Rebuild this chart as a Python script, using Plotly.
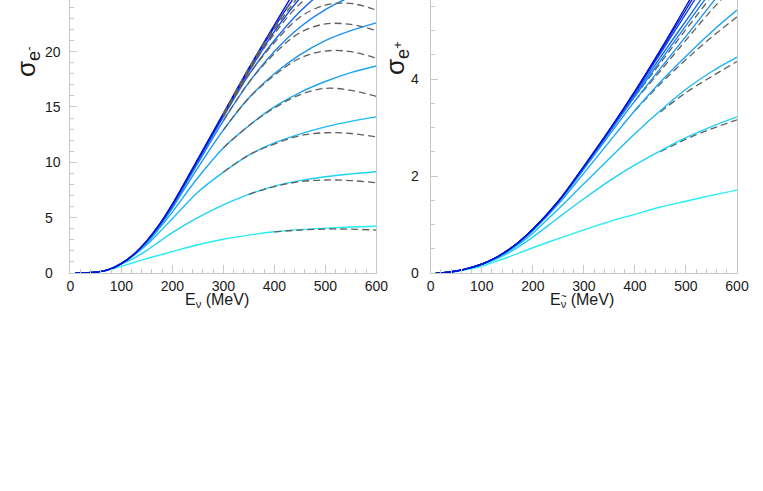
import plotly.graph_objects as go

# energy grid (MeV) shared by all curves
e_grid = [10, 25, 50, 75, 100, 125, 150, 175, 200, 250, 300, 350, 400, 450, 500, 550, 600]
e_tail_left = [300, 350, 400, 450, 500, 550, 600]
e_tail_right = [400, 450, 500, 550, 600]

# sigma_e- (left panel), solid curves from light to dark
sig_em_1 = [0, 0.01, 0.07, 0.27, 0.60, 0.95, 1.30, 1.62, 1.93, 2.55, 3.05, 3.42, 3.72, 3.92, 4.05, 4.15, 4.22]
sig_em_2 = [0, 0.01, 0.07, 0.29, 0.80, 1.35, 2.05, 2.85, 3.65, 5.00, 6.15, 7.10, 7.85, 8.35, 8.70, 8.95, 9.15]
sig_em_3 = [0, 0.01, 0.07, 0.30, 0.84, 1.60, 2.55, 3.70, 4.90, 7.30, 9.10, 10.65, 11.75, 12.55, 13.2, 13.7, 14.1]
sig_em_4 = [0, 0.01, 0.07, 0.30, 0.85, 1.65, 2.70, 4.05, 5.50, 8.60, 11.3, 13.3, 15.0, 16.3, 17.3, 18.1, 18.7]
sig_em_5 = [0, 0.01, 0.07, 0.30, 0.85, 1.68, 2.80, 4.20, 5.85, 9.50, 12.9, 15.8, 18.0, 19.7, 21.0, 21.9, 22.6]
sig_em_6 = [0, 0.01, 0.07, 0.30, 0.85, 1.69, 2.85, 4.30, 6.00, 9.90, 13.75, 17.2, 20.0, 22.2, 23.8, 24.95, 25.8]
sig_em_7 = [0, 0.01, 0.07, 0.30, 0.85, 1.70, 2.88, 4.35, 6.10, 10.05, 14.1, 17.9, 21.0, 23.6, 25.6, 27.2, 28.5]
sig_em_8 = [0, 0.01, 0.07, 0.30, 0.85, 1.70, 2.90, 4.38, 6.15, 10.2, 14.25, 18.2, 21.8, 24.8, 27.2, 29.2, 30.8]
sig_em_9 = [0, 0.01, 0.07, 0.30, 0.85, 1.70, 2.90, 4.40, 6.20, 10.25, 14.35, 18.4, 22.2, 25.6, 28.5, 31.0, 33.0]
sig_em_10 = [0, 0.01, 0.07, 0.30, 0.85, 1.70, 2.90, 4.40, 6.20, 10.3, 14.4, 18.5, 22.4, 26.2, 29.8, 33.0, 36.0]

# dashed approximations (left), only where they show apart from the solid lines
dash_em_1 = [None, None, 3.72, 3.88, 3.97, 3.96, 3.88]
dash_em_2 = [None, 7.10, 7.80, 8.25, 8.40, 8.35, 8.15]
dash_em_3 = [9.10, 10.65, 11.65, 12.4, 12.67, 12.6, 12.3]
dash_em_4 = [11.3, 13.3, 14.9, 16.1, 16.68, 16.5, 15.95]
dash_em_5 = [12.9, 15.8, 17.85, 19.4, 20.05, 20.0, 19.4]
dash_em_6 = [13.75, 17.2, 19.8, 21.7, 22.5, 22.45, 21.9]
dash_em_7 = [14.1, 17.9, 20.8, 23.1, 24.2, 24.35, 23.75]
dash_em_8 = [14.25, 18.2, 21.6, 24.3, 26.0, 26.5, 26.3]
dash_em_9 = [14.35, 18.4, 22.0, 25.1, 27.5, 28.8, 29.2]
dash_em_10 = [14.4, 18.5, 22.2, 25.6, 28.6, 30.8, 32.0]

# sigma_e+ (right panel)
sig_ep_1 = [0, 0.005, 0.03, 0.08, 0.14, 0.23, 0.32, 0.42, 0.52, 0.71, 0.89, 1.06, 1.21, 1.36, 1.48, 1.60, 1.71]
sig_ep_2 = [0, 0.005, 0.04, 0.095, 0.17, 0.27, 0.40, 0.56, 0.74, 1.14, 1.53, 1.90, 2.23, 2.52, 2.79, 3.02, 3.22]
sig_ep_3 = [0, 0.005, 0.04, 0.10, 0.18, 0.29, 0.43, 0.61, 0.82, 1.32, 1.84, 2.36, 2.87, 3.35, 3.79, 4.15, 4.45]
sig_ep_4 = [0, 0.005, 0.04, 0.10, 0.18, 0.30, 0.45, 0.64, 0.87, 1.42, 2.06, 2.71, 3.35, 3.94, 4.47, 4.97, 5.42]
sig_ep_5 = [0, 0.005, 0.04, 0.10, 0.18, 0.30, 0.45, 0.65, 0.89, 1.46, 2.14, 2.85, 3.55, 4.22, 4.88, 5.55, 6.20]
sig_ep_6 = [0, 0.005, 0.04, 0.10, 0.18, 0.30, 0.46, 0.65, 0.90, 1.47, 2.17, 2.90, 3.64, 4.38, 5.10, 5.82, 6.50]
sig_ep_7 = [0, 0.005, 0.04, 0.10, 0.18, 0.30, 0.46, 0.66, 0.90, 1.47, 2.18, 2.92, 3.68, 4.45, 5.20, 5.95, 6.70]
sig_ep_8 = [0, 0.005, 0.04, 0.10, 0.18, 0.30, 0.46, 0.66, 0.90, 1.48, 2.19, 2.94, 3.72, 4.53, 5.35, 6.18, 7.00]
sig_ep_9 = [0, 0.005, 0.04, 0.10, 0.18, 0.30, 0.46, 0.66, 0.90, 1.48, 2.20, 2.95, 3.74, 4.57, 5.43, 6.30, 7.15]
sig_ep_10 = [0, 0.005, 0.04, 0.10, 0.18, 0.30, 0.46, 0.66, 0.90, 1.48, 2.20, 2.95, 3.75, 4.60, 5.50, 6.40, 7.30]

dash_ep_2 = [None, 2.50, 2.76, 2.97, 3.16]
dash_ep_3 = [None, 3.32, 3.72, 4.05, 4.36]
dash_ep_4 = [3.35, 3.90, 4.40, 4.86, 5.28]
dash_ep_5 = [3.55, 4.17, 4.80, 5.42, 5.98]
dash_ep_6 = [3.64, 4.33, 5.02, 5.70, 6.35]

# tick labels (single digits padded so they line up on the left like the original)
left_tick_vals = [0, 5, 10, 15, 20]
left_tick_text = ['0\u2007', '5\u2007', '10', '15', '20']
right_tick_vals = [0, 2, 4]
right_tick_text = ['0', '2', '4']

line_colors = ['#24eef4', '#1fd2f6', '#1dbbf5', '#1ca6f3', '#1b94f2',
               '#1a82f0', '#1868ec', '#1248e6', '#0a28de', '#0010d4']

left_solid = [sig_em_1, sig_em_2, sig_em_3, sig_em_4, sig_em_5,
              sig_em_6, sig_em_7, sig_em_8, sig_em_9, sig_em_10]
left_dash = [dash_em_1, dash_em_2, dash_em_3, dash_em_4, dash_em_5,
             dash_em_6, dash_em_7, dash_em_8, dash_em_9, dash_em_10]
right_solid = [sig_ep_1, sig_ep_2, sig_ep_3, sig_ep_4, sig_ep_5,
               sig_ep_6, sig_ep_7, sig_ep_8, sig_ep_9, sig_ep_10]
right_dash = [dash_ep_2, dash_ep_3, dash_ep_4, dash_ep_5, dash_ep_6]

W, H = 763, 491
FONT = "Liberation Sans, Arial, sans-serif"
TICK_GREY = '#c8c8c8'
DASH_GREY = '#606060'

fig = go.Figure()


def add_dashed(xa, ya, e_tail, dashes):
    for vals in dashes:
        fig.add_trace(go.Scatter(
            x=e_tail, y=vals, mode='lines', xaxis=xa, yaxis=ya,
            line=dict(color=DASH_GREY, width=1.3, dash='7px,4px', shape='spline'),
            showlegend=False, hoverinfo='skip'))


def add_solid(xa, ya, solids):
    for color, vals in zip(line_colors, solids):
        fig.add_trace(go.Scatter(
            x=e_grid, y=vals, mode='lines', xaxis=xa, yaxis=ya,
            line=dict(color=color, width=1.4, shape='spline'),
            showlegend=False, hoverinfo='skip'))


# left: dashes drawn over the solid lines, right: under them
add_solid('x', 'y', left_solid)
add_dashed('x', 'y', e_tail_left, left_dash)
add_dashed('x2', 'y2', e_tail_right, right_dash)
add_solid('x2', 'y2', right_solid)


def px_x(px):
    return px / W


def px_y(py):
    return 1 - py / H


y_dom = [px_y(273), 1.0]

axis_common = dict(
    ticks='inside', tickcolor=TICK_GREY, tickwidth=1,
    showline=True, linecolor=TICK_GREY, linewidth=1,
    showgrid=False, zeroline=False, automargin=False,
    tickfont=dict(family=FONT, size=14, color='#1a1a1a'),
)

fig.update_layout(
    width=W, height=H,
    margin=dict(l=0, r=0, t=0, b=0, autoexpand=False),
    paper_bgcolor='white', plot_bgcolor='white',
    xaxis=dict(domain=[px_x(70.3), px_x(376.3)], range=[0, 600], anchor='y',
               dtick=100, tick0=0, ticklen=8,
               minor=dict(dtick=20, ticks='inside', ticklen=4, tickcolor=TICK_GREY),
               **axis_common),
    yaxis=dict(domain=y_dom, range=[0, 273 / 11.07], anchor='x',
               tickmode='array', tickvals=left_tick_vals, ticktext=left_tick_text,
               ticklen=7, mirror=True, ticklabelstandoff=6,
               minor=dict(dtick=1, ticks='inside', ticklen=4, tickcolor=TICK_GREY),
               **axis_common),
    xaxis2=dict(domain=[px_x(430.7), px_x(737.0)], range=[0, 600], anchor='y2',
                dtick=100, tick0=0, ticklen=8,
                minor=dict(dtick=20, ticks='inside', ticklen=4, tickcolor=TICK_GREY),
                **axis_common),
    yaxis2=dict(domain=y_dom, range=[0, 273 / 48.5], anchor='x2',
                tickmode='array', tickvals=right_tick_vals, ticktext=right_tick_text,
                ticklen=7, mirror=True, ticklabelstandoff=8,
                minor=dict(dtick=0.5, ticks='inside', ticklen=4, tickcolor=TICK_GREY),
                **axis_common),
)

title_font = dict(family=FONT, size=16, color='#1a1a1a')
sigma_font = dict(family=FONT, size=26, color='#1a1a1a')

fig.add_annotation(text='E<sub>ν</sub> (MeV)', xref='paper', yref='paper',
                   x=px_x(217), y=px_y(300), xanchor='center', yanchor='middle',
                   showarrow=False, font=title_font)
fig.add_annotation(text='E<sub>ν</sub> (MeV)', xref='paper', yref='paper',
                   x=px_x(582), y=px_y(300), xanchor='center', yanchor='middle',
                   showarrow=False, font=title_font)
# tilde over the anti-neutrino symbol
fig.add_annotation(text='~', xref='paper', yref='paper',
                   x=px_x(563.5), y=px_y(296), xanchor='center', yanchor='middle',
                   showarrow=False, font=dict(family=FONT, size=10, color='#1a1a1a'))
fig.add_annotation(text='σ<sub>e<sup>-</sup></sub>', xref='paper', yref='paper',
                   x=px_x(27), y=px_y(62), xanchor='center', yanchor='middle',
                   textangle=-90, showarrow=False, font=sigma_font)
fig.add_annotation(text='σ<sub>e<sup>+</sup></sub>', xref='paper', yref='paper',
                   x=px_x(397), y=px_y(58), xanchor='center', yanchor='middle',
                   textangle=-90, showarrow=False, font=sigma_font)

# drop the default page margin so the figure sits at the window's corner
fig.write_html("out.html", config={'displayModeBar': False},
               post_script="document.body.style.margin = '0px';")
